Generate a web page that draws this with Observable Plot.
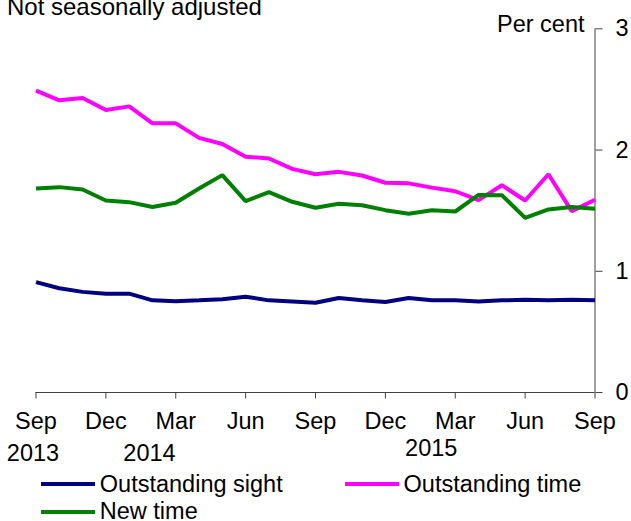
<!DOCTYPE html>
<html>
<head>
<meta charset="utf-8">
<script src="https://cdn.jsdelivr.net/npm/d3@7"></script>
<script src="https://cdn.jsdelivr.net/npm/@observablehq/plot@0.6"></script>
<style>
  html, body { margin: 0; padding: 0; background: #fff; }
  #wrap { position: relative; width: 631px; height: 521px; overflow: hidden; font-family: "Liberation Sans", Arial, sans-serif; color: #000; }
  #title { position: absolute; left: 7px; top: -5.3px; font-size: 24px; line-height: 24px; white-space: nowrap; }
  #chart { position: absolute; left: 0; top: 0; }
  .lg-line { position: absolute; width: 54px; height: 4px; }
  .lg-text { position: absolute; font-size: 23.5px; line-height: 23.5px; white-space: nowrap; }
</style>
</head>
<body>
<div id="wrap">
  <div id="chart"></div>
  <div id="title">Not seasonally adjusted</div>
  <div id="legend"></div>
</div>
<script>
// ---- data ----
const months = ["2013-09","2013-10","2013-11","2013-12","2014-01","2014-02","2014-03","2014-04","2014-05","2014-06","2014-07","2014-08","2014-09","2014-10","2014-11","2014-12","2015-01","2015-02","2015-03","2015-04","2015-05","2015-06","2015-07","2015-08","2015-09"];
const outstandingSight = [0.91,0.86,0.83,0.815,0.815,0.76,0.752,0.76,0.77,0.79,0.76,0.75,0.74,0.78,0.76,0.747,0.78,0.76,0.76,0.75,0.76,0.765,0.76,0.765,0.76];
const outstandingTime = [2.49,2.41,2.43,2.33,2.36,2.22,2.22,2.10,2.05,1.945,1.93,1.845,1.80,1.82,1.79,1.73,1.725,1.69,1.66,1.587,1.71,1.584,1.80,1.496,1.59];
const newTime = [1.683,1.694,1.675,1.584,1.57,1.53,1.565,1.683,1.793,1.579,1.653,1.573,1.524,1.557,1.545,1.504,1.474,1.504,1.493,1.63,1.628,1.44,1.51,1.53,1.515];
const seriesNames = ["Outstanding sight","Outstanding time","New time"];
const seriesColors = ["#000080","#ff00ff","#008000"];
const xTickMonths = ["2013-09","2013-12","2014-03","2014-06","2014-09","2014-12","2015-03","2015-06","2015-09"];
const xTickLabels = ["Sep","Dec","Mar","Jun","Sep","Dec","Mar","Jun","Sep"];
const yTicks = [0,1,2,3];
const yearLabels = ["2013","2014","2015"];
const yearLabelMonths = ["2013-09","2014-02","2015-02"];
const yLabel = "Per cent";

// ---- build ----
const seriesValues = [outstandingSight, outstandingTime, newTime];
const rows = [];
seriesNames.forEach((name, s) => {
  seriesValues[s].forEach((v, i) => rows.push({series: name, i, value: v}));
});
const idx = m => months.indexOf(m);
const xTicks = xTickMonths.map(idx);
const fontFamily = "Liberation Sans, Arial, sans-serif";
const axisColor = "#404040";

const drawOrder = [0, 1, 2];
const chart = Plot.plot({
  width: 631,
  height: 470,
  marginLeft: 35.5,
  marginRight: 36.5,
  marginTop: 28.3,
  marginBottom: 78,
  style: {fontFamily, fontSize: "23.5px", color: "#000", background: "transparent", overflow: "visible"},
  x: {type: "linear", domain: [0, months.length - 1]},
  y: {domain: [0, 3]},
  marks: [
    Plot.ruleY([0], {stroke: axisColor, strokeWidth: 1}),
    Plot.ruleX([months.length - 1], {stroke: axisColor, strokeWidth: 1}),
    Plot.axisX({ticks: xTicks, tickSize: 6.5, tickPadding: 13.5, stroke: axisColor, tickFormat: d => xTickLabels[xTicks.indexOf(d)], label: null, fill: "#000"}),
    Plot.axisY({anchor: "right", ticks: yTicks, tickSize: 7, tickPadding: 13.5, stroke: axisColor, tickFormat: d => String(d), label: null, fill: "#000"}),
    Plot.text([yLabel], {frameAnchor: "top-right", textAnchor: "end", lineAnchor: "middle", dx: -10.5, dy: -4, fill: "#000"}),
    Plot.text(yearLabels.slice(0, 2), {x: yearLabelMonths.slice(0, 2).map(idx), frameAnchor: "bottom", lineAnchor: "middle", dy: 61.3, dx: -3, fill: "#000"}),
    Plot.text(yearLabels.slice(2), {x: yearLabelMonths.slice(2).map(idx), frameAnchor: "bottom", lineAnchor: "middle", dy: 56, dx: -0.7, fill: "#000"}),
    ...drawOrder.map(s => Plot.line(rows.filter(r => r.series === seriesNames[s]), {
      x: "i", y: "value", stroke: seriesColors[s], strokeWidth: 4, strokeLinejoin: "miter", strokeLinecap: "butt"
    }))
  ]
});
document.getElementById("chart").appendChild(chart);

// ---- legend ----
const legend = document.getElementById("legend");
const legendPos = [
  {line: [40.7, 481.5], text: [99.8, 472.6]},
  {line: [345.4, 481.5], text: [403.6, 472.6]},
  {line: [40.7, 509.8], text: [99.8, 500.1]}
];
seriesNames.forEach((name, s) => {
  const p = legendPos[s];
  const line = document.createElement("div");
  line.className = "lg-line";
  line.style.left = p.line[0] + "px";
  line.style.top = p.line[1] + "px";
  line.style.background = seriesColors[s];
  const t = document.createElement("div");
  t.className = "lg-text";
  t.style.left = p.text[0] + "px";
  t.style.top = p.text[1] + "px";
  t.textContent = name;
  legend.appendChild(line);
  legend.appendChild(t);
});
</script>
</body>
</html>
